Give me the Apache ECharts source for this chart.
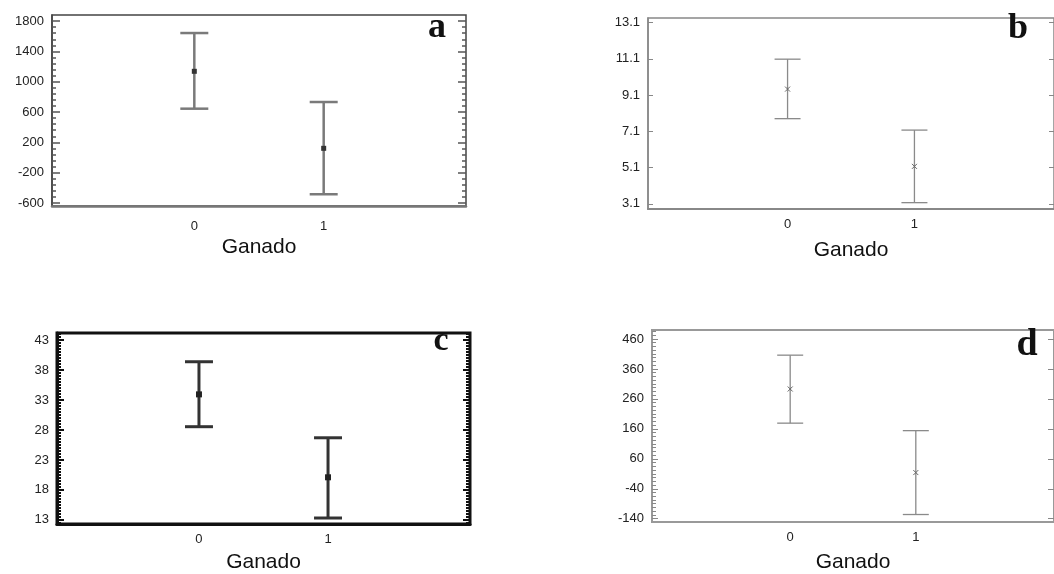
<!DOCTYPE html>
<html>
<head>
<meta charset="utf-8">
<script src="https://cdn.jsdelivr.net/npm/echarts@6/dist/echarts.min.js"></script>
<style>
html,body{margin:0;padding:0;background:#fff;}
#chart{width:1054px;height:574px;}
</style>
</head>
<body>
<div id="chart"></div>
<script>
// ---- data ----
const categories = [0, 1];
const xName = 'Ganado';

const aMean = [1137, 121];
const aLow  = [644, -485];
const aHigh = [1642, 732];
const aTicks = [-600, -200, 200, 600, 1000, 1400, 1800];

const bMean = [9.43, 5.17];
const bLow  = [7.8, 3.17];
const bHigh = [11.08, 7.17];
const bTicks = [3.1, 5.1, 7.1, 9.1, 11.1, 13.1];

const cMean = [33.95, 20.1];
const cLow  = [28.55, 13.3];
const cHigh = [39.4, 26.7];
const cTicks = [13, 18, 23, 28, 33, 38, 43];

const dMean = [293, 14];
const dLow  = [179, -126];
const dHigh = [406, 154];
const dTicks = [-140, -40, 60, 160, 260, 360, 460];

const panelLetters = ['a', 'b', 'c', 'd'];

// ---- panel settings (layout/style) ----
const panels = [
  {mean:aMean, low:aLow, high:aHigh, ticks:aTicks, min:-640, max:1880, minorDiv:5,
   grid:{left:52, top:15, width:414, height:191},
   frame:'#444', frameW:1.5, bottomColor:'#777', bottomW:2.5, tickColor:'#555', tickW:1.5,
   majorLen:8, minorLen:4, rightTicks:true, rightMinor:true,
   barColor:'#7a7a7a', barW:2.5, cap:14, meanColor:'#333', meanSize:5, meanShape:'rect',
   xLabelMargin:14, nameGap:31,
   letter:{x:437, y:28, size:36}},
  {mean:bMean, low:bLow, high:bHigh, ticks:bTicks, min:2.82, max:13.35, minorDiv:0,
   grid:{left:648, top:18, width:413, height:191},
   frame:'#888', frameW:1.5, bottomColor:'#888', bottomW:2, tickColor:'#888', tickW:1,
   majorLen:5, minorLen:0, rightTicks:true, rightMinor:false,
   barColor:'#8a8a8a', barW:1.3, cap:13, meanColor:'#666', meanSize:2.5, meanShape:'x',
   xLabelMargin:9, nameGap:31,
   letter:{x:1018, y:29, size:36}},
  {mean:cMean, low:cLow, high:cHigh, ticks:cTicks, min:12.3, max:44.2, minorDiv:10,
   grid:{left:57, top:333, width:413, height:191},
   frame:'#111', frameW:3, bottomColor:'#111', bottomW:3, tickColor:'#111', tickW:2,
   majorLen:7, minorLen:4, rightTicks:true, rightMinor:true,
   barColor:'#333', barW:3, cap:14, meanColor:'#222', meanSize:6, meanShape:'rect',
   xLabelMargin:9, nameGap:28,
   letter:{x:441, y:341, size:34}},
  {mean:dMean, low:dLow, high:dHigh, ticks:dTicks, min:-151, max:490, minorDiv:8,
   grid:{left:652, top:330, width:413, height:192},
   frame:'#999', frameW:2, bottomColor:'#999', bottomW:2, tickColor:'#888', tickW:1,
   majorLen:6, minorLen:4, rightTicks:true, rightMinor:false,
   barColor:'#8a8a8a', barW:1.3, cap:13, meanColor:'#666', meanSize:2.5, meanShape:'x',
   xLabelMargin:9, nameGap:30,
   letter:{x:1027, y:345, size:38}}
];

function minorValues(ticks, div, min, max) {
  if (!div) return [];
  const out = [];
  const step = (ticks[1] - ticks[0]) / div;
  const first = ticks[0];
  for (let k = -div; k <= (ticks.length) * div; k++) {
    if (k % div === 0) continue;
    const v = first + k * step;
    if (v > min + 1e-9 && v < max - 1e-9) out.push(+v.toFixed(6));
  }
  return out;
}

const grids = [], xAxes = [], yAxes = [], series = [], graphics = [];
const font = 'Liberation Sans';
const plain = v => String(v);

panels.forEach((p, i) => {
  grids.push(Object.assign({show:true, borderColor:p.frame, borderWidth:p.frameW, backgroundColor:'#fff'}, p.grid));
  xAxes.push({
    type:'value', gridIndex:i, min:-1.1, max:2.1,
    name:xName, nameLocation:'middle', nameGap:p.nameGap,
    nameTextStyle:{fontFamily:font, fontSize:21, color:'#111'},
    axisLine:{show:true, onZero:false, lineStyle:{color:p.bottomColor, width:p.bottomW}},
    axisTick:{show:false},
    splitLine:{show:false},
    axisLabel:{customValues:categories, formatter:plain, margin:p.xLabelMargin, fontFamily:font, fontSize:13, color:'#222'}
  });
  const base = yAxes.length;
  // main left axis
  yAxes.push({
    type:'value', gridIndex:i, min:p.min, max:p.max, position:'left',
    axisLine:{show:true, onZero:false, lineStyle:{color:p.frame, width:p.frameW}},
    axisTick:{show:true, inside:true, length:p.majorLen, customValues:p.ticks, lineStyle:{color:p.tickColor, width:p.tickW}},
    axisLabel:{customValues:p.ticks, formatter:plain, margin:8, fontFamily:font, fontSize:13, color:'#222'},
    splitLine:{show:false}
  });
  const minors = minorValues(p.ticks, p.minorDiv, p.min, p.max);
  if (minors.length) {
    yAxes.push({
      type:'value', gridIndex:i, min:p.min, max:p.max, position:'left',
      axisLine:{show:false, onZero:false},
      axisTick:{show:true, inside:true, length:p.minorLen, customValues:minors, lineStyle:{color:p.tickColor, width:p.tickW}},
      axisLabel:{show:false}, splitLine:{show:false}
    });
  }
  if (p.rightTicks) {
    yAxes.push({
      type:'value', gridIndex:i, min:p.min, max:p.max, position:'right',
      axisLine:{show:false, onZero:false},
      axisTick:{show:true, inside:true, length:p.majorLen, customValues:p.ticks, lineStyle:{color:p.tickColor, width:p.tickW}},
      axisLabel:{show:false}, splitLine:{show:false}
    });
    if (p.rightMinor && minors.length) {
      yAxes.push({
        type:'value', gridIndex:i, min:p.min, max:p.max, position:'right',
        axisLine:{show:false, onZero:false},
        axisTick:{show:true, inside:true, length:p.minorLen, customValues:minors, lineStyle:{color:p.tickColor, width:p.tickW}},
        axisLabel:{show:false}, splitLine:{show:false}
      });
    }
  }
  const data = categories.map((c, k) => [c, p.low[k], p.high[k], p.mean[k]]);
  series.push({
    type:'custom', xAxisIndex:i, yAxisIndex:base, data:data, clip:false,
    renderItem:function(params, api){
      const x = api.value(0);
      const lo = api.coord([x, api.value(1)]);
      const hi = api.coord([x, api.value(2)]);
      const m = api.coord([x, api.value(3)]);
      const ls = {stroke:p.barColor, lineWidth:p.barW};
      const s = p.meanSize;
      const children = [
        {type:'line', shape:{x1:lo[0], y1:lo[1], x2:hi[0], y2:hi[1]}, style:ls},
        {type:'line', shape:{x1:hi[0]-p.cap, y1:hi[1], x2:hi[0]+p.cap, y2:hi[1]}, style:ls},
        {type:'line', shape:{x1:lo[0]-p.cap, y1:lo[1], x2:lo[0]+p.cap, y2:lo[1]}, style:ls}
      ];
      if (p.meanShape === 'rect') {
        children.push({type:'rect', shape:{x:m[0]-s/2, y:m[1]-s/2, width:s, height:s}, style:{fill:p.meanColor}});
      } else {
        children.push({type:'line', shape:{x1:m[0]-s, y1:m[1]-s, x2:m[0]+s, y2:m[1]+s}, style:{stroke:p.meanColor, lineWidth:1}});
        children.push({type:'line', shape:{x1:m[0]-s, y1:m[1]+s, x2:m[0]+s, y2:m[1]-s}, style:{stroke:p.meanColor, lineWidth:1}});
      }
      return {type:'group', children:children};
    }
  });
  graphics.push({
    type:'text', x:p.letter.x, y:p.letter.y, z:100,
    style:{text:panelLetters[i], font:'bold ' + p.letter.size + 'px "Liberation Serif"', fill:'#111',
           textAlign:'center', textVerticalAlign:'middle'}
  });
});

const chart = echarts.init(document.getElementById('chart'), null, {renderer:'canvas'});
chart.setOption({
  animation:false,
  backgroundColor:'#fff',
  grid:grids, xAxis:xAxes, yAxis:yAxes, series:series, graphic:graphics
});
</script>
</body>
</html>
